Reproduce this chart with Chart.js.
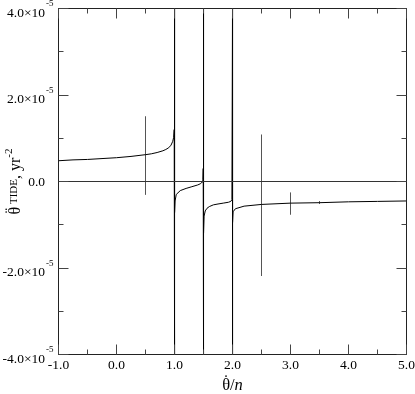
<!DOCTYPE html>
<html>
<head>
<meta charset="utf-8">
<script src="https://cdn.jsdelivr.net/npm/chart.js@4.4.1/dist/chart.umd.min.js"></script>
<style>
    html, body { margin: 0; padding: 0; background: #fff; }
    #wrap { width: 415px; height: 394px; }
</style>
</head>
<body>
<div id="wrap"><canvas id="tideChart" width="415" height="394"></canvas></div>
<script>
/* =====================================================
   DATA  (y values in units of 1e-5 yr^-2)
===================================================== */

// tidal curve, four branches joined across the poles at 1.0, 1.5, 2.0
const curveX = [
    -1.0, -0.75, -0.5, -0.25, 0.0, 0.25, 0.5, 0.6, 0.7, 0.8, 0.85, 0.9, 0.94, 0.97, 0.985, 0.995, 1.0,
    1.0, 1.001, 1.004, 1.01, 1.03, 1.1, 1.2, 1.3, 1.4, 1.45, 1.48, 1.49, 1.495, 1.5,
    1.5, 1.502, 1.51, 1.53, 1.56, 1.6, 1.67, 1.75, 1.84, 1.93, 1.97, 1.99, 2.0,
    2.0, 2.002, 2.01, 2.05, 2.2, 2.5, 3.0, 3.5, 4.0, 4.5, 5.0
];
const curveY = [
    0.48, 0.50, 0.51, 0.53, 0.55, 0.58, 0.62, 0.64, 0.67, 0.71, 0.74, 0.78, 0.84, 0.93, 1.02, 1.20, 4.0,
    -4.0, -1.4, -0.72, -0.45, -0.30, -0.21, -0.16, -0.12, -0.08, -0.05, -0.01, 0.05, 0.3, 4.0,
    -4.0, -1.2, -0.80, -0.68, -0.62, -0.58, -0.54, -0.52, -0.50, -0.48, -0.46, -0.42, 4.0,
    -4.0, -0.95, -0.70, -0.63, -0.57, -0.53, -0.50, -0.49, -0.47, -0.46, -0.45
];

// measured points (error bars only)
const errX    = [0.5, 2.5, 3.0, 3.5];
const errY    = [0.6, -0.55, -0.51, -0.49];
const errSize = [0.9, 1.63, 0.25, 0.03];

// ticks
const xMajor = [-1, 0, 1, 2, 3, 4, 5];
const xMinor = [-0.5, 0.5, 1.5, 2.5, 3.5, 4.5];
const xTickLabels = ["-1.0", "0.0", "1.0", "2.0", "3.0", "4.0", "5.0"];

const yMajor = [-4, -2, 0, 2, 4];
const yMinor = [-3, -1, 1, 3];
const yTickMain = ["-4.0\u00d710", "-2.0\u00d710", "0.0", "2.0\u00d710", "4.0\u00d710"];
const yTickExp  = ["-5", "-5", "", "-5", "-5"];


/* =====================================================
   BUILD DATASETS
===================================================== */

const curvePts = curveX.map((x, i) => ({ x, y: curveY[i] }));

const errPts = [];
errX.forEach((x, i) => {
    errPts.push({ x, y: errY[i] + errSize[i] });
    errPts.push({ x, y: errY[i] - errSize[i] });
    errPts.push({ x, y: null });
});

const zeroPts = [{ x: -1, y: 0 }, { x: 5, y: 0 }];


/* =====================================================
   FRAME, TICKS AND TEXT
===================================================== */

const SERIF = '"Liberation Serif", "Times New Roman", serif';

// theta with one or two dots above, drawn left to right from (u, v)
function drawTheta(ctx, u, v, size, accent) {
    ctx.font = size + "px " + SERIF;
    const w = ctx.measureText("\u03b8").width;
    ctx.textAlign = "left";
    ctx.fillText("\u03b8", u, v);
    ctx.textAlign = "center";
    ctx.fillText(accent, u + w / 2, v - size * 0.22);
    ctx.textAlign = "left";
    return w;
}

const framePlugin = {
    id: "frame",
    afterDraw(chart) {
        const { ctx, chartArea: a, scales: { x, y } } = chart;
        ctx.save();

        ctx.strokeStyle = "#222";
        ctx.lineWidth = 1;
        ctx.strokeRect(a.left, a.top, a.right - a.left, a.bottom - a.top);

        // inward ticks on all four sides
        ctx.strokeStyle = "#444";
        ctx.beginPath();
        const xt = (v, len) => {
            const px = Math.floor(x.getPixelForValue(v)) + 0.5;
            ctx.moveTo(px, a.bottom); ctx.lineTo(px, a.bottom - len);
            ctx.moveTo(px, a.top);    ctx.lineTo(px, a.top + len);
        };
        const yt = (v, len) => {
            const py = Math.floor(y.getPixelForValue(v)) + 0.5;
            ctx.moveTo(a.left, py);  ctx.lineTo(a.left + len, py);
            ctx.moveTo(a.right, py); ctx.lineTo(a.right - len, py);
        };
        xMajor.forEach(v => xt(v, 10));
        xMinor.forEach(v => xt(v, 5));
        yMajor.forEach(v => yt(v, 10));
        yMinor.forEach(v => yt(v, 5));
        ctx.stroke();

        ctx.fillStyle = "#000";

        // x tick labels
        ctx.font = "13.5px " + SERIF;
        ctx.textAlign = "center";
        ctx.textBaseline = "middle";
        xMajor.forEach((v, i) => {
            ctx.fillText(xTickLabels[i], x.getPixelForValue(v), a.bottom + 11);
        });

        // y tick labels with superscript exponent
        const labelRight = 45;
        yMajor.forEach((v, i) => {
            const py = y.getPixelForValue(v);
            ctx.textAlign = "right";
            ctx.font = "13.5px " + SERIF;
            if (yTickExp[i]) {
                ctx.fillText(yTickMain[i], labelRight, py + 4.5);
                ctx.textAlign = "left";
                ctx.font = "9px " + SERIF;
                ctx.fillText(yTickExp[i], labelRight + 1, py - 4.5);
            } else {
                ctx.fillText(yTickMain[i], labelRight, py + 1);
            }
        });

        // x title: theta-dot / n
        ctx.textBaseline = "alphabetic";
        ctx.textAlign = "left";
        const cx = (a.left + a.right) / 2;
        ctx.font = "16.5px " + SERIF;
        const wTh = ctx.measureText("\u03b8").width;
        const wSl = ctx.measureText("/").width;
        ctx.font = "italic 16.5px " + SERIF;
        const wN = ctx.measureText("n").width;
        let sx = cx - (wTh + wSl + wN) / 2;
        drawTheta(ctx, sx, 390, 16.5, "\u02d9");
        ctx.font = "16.5px " + SERIF;
        ctx.fillText("/", sx + wTh, 390);
        ctx.font = "italic 16.5px " + SERIF;
        ctx.fillText("n", sx + wTh + wSl, 390);

        // y title, rotated: theta-double-dot ^TIDE , yr ^-2
        const parts = [
            { t: " TIDE", f: "11px " + SERIF, dy: -3.5 },
            { t: ", yr", f: "16px " + SERIF, dy: 0 },
            { t: "-2", f: "11px " + SERIF, dy: -8 }
        ];
        ctx.font = "16px " + SERIF;
        let total = ctx.measureText("\u03b8").width;
        parts.forEach(p => { ctx.font = p.f; p.w = ctx.measureText(p.t).width; total += p.w; });
        ctx.translate(20, (a.top + a.bottom) / 2);
        ctx.rotate(-Math.PI / 2);
        let u = -total / 2;
        u += drawTheta(ctx, u, 0, 16, "\u00a8");
        parts.forEach(p => {
            ctx.font = p.f;
            ctx.fillText(p.t, u, p.dy);
            u += p.w;
        });

        ctx.restore();
    }
};


/* =====================================================
   CHART
===================================================== */

new Chart(document.getElementById("tideChart"), {
    type: "line",
    data: {
        datasets: [
            { data: zeroPts, borderColor: "#333", borderWidth: 1, pointRadius: 0 },
            { data: curvePts, borderColor: "#000", borderWidth: 1, pointRadius: 0, tension: 0 },
            { data: errPts, borderColor: "#555", borderWidth: 1, pointRadius: 0, spanGaps: false }
        ]
    },
    options: {
        responsive: false,
        animation: false,
        devicePixelRatio: 1,
        layout: { padding: { left: 58.5, right: 8.5, top: 8.5, bottom: 39.5 } },
        plugins: { legend: { display: false }, tooltip: { enabled: false } },
        scales: {
            x: { type: "linear", min: -1, max: 5, display: false },
            y: { type: "linear", min: -4, max: 4, display: false }
        }
    },
    plugins: [framePlugin]
});
</script>
</body>
</html>
